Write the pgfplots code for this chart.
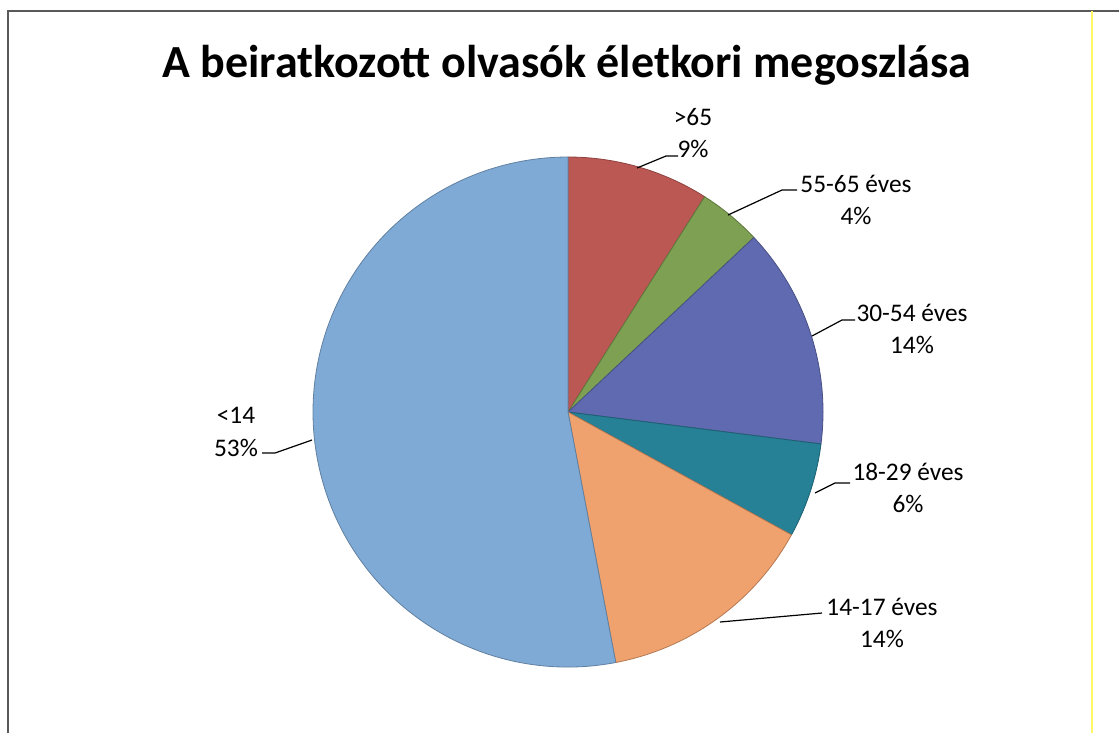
\documentclass[border=0pt]{standalone}
\usepackage{pgfplots}
\pgfplotsset{compat=1.18}
\usepackage{fontspec}
\setmainfont{Carlito}
\definecolor{cRed}{RGB}{188,88,84}
\definecolor{cGreen}{RGB}{126,160,82}
\definecolor{cBlue}{RGB}{96,106,176}
\definecolor{cTeal}{RGB}{38,128,150}
\definecolor{cOrange}{RGB}{240,162,110}
\definecolor{cLight}{RGB}{128,170,214}
% slice: start (cumulative %), share (%), colour
\newcommand\slice[3]{%
  \pgfmathsetmacro\angA{90-3.6*#1}%
  \pgfmathsetmacro\angB{90-3.6*(#1+#2)}%
  \edef\doslice{\noexpand\addplot[fill=#3, draw=#3!75!black, line width=0.6pt, data cs=polar] coordinates {(\angA,0) (\angA,1)} arc[start angle=\angA, end angle=\angB, radius=191.25pt] -- cycle;}%
  \doslice}
\begin{document}
\begin{tikzpicture}
\begin{scope}[x=0.75pt,y=-0.75pt]
\useasboundingbox (0,0) rectangle (1119,733);
\fill[white] (0,0) rectangle (1119,733);
\draw[black!65, line width=1.4pt] (8,733) -- (8,11) -- (1119,11);
\draw[yellow!60, line width=0.8pt] (1092,11) -- (1092,733);
\node[font=\fontsize{34.5}{38}\selectfont\bfseries] at (567,65) {A beiratkozott olvasók életkori megoszlása};
\end{scope}
\begin{axis}[at={(426pt,-309pt)}, anchor=center, scale only axis, width=382.5pt, height=382.5pt,
  xmin=-1, xmax=1, ymin=-1, ymax=1, hide axis, clip=false]
  \slice{0}{9}{cRed}
  \slice{9}{4}{cGreen}
  \slice{13}{14}{cBlue}
  \slice{27}{6}{cTeal}
  \slice{33}{14}{cOrange}
  \slice{47}{53}{cLight}
\end{axis}
\begin{scope}[x=0.75pt,y=-0.75pt]
\begin{scope}[every node/.style={font=\fontsize{19}{24.5}\selectfont, align=center}]
\node at (693,133) {>65\\9\%};
\node at (856,200) {55-65 éves\\4\%};
\node at (912,329) {30-54 éves\\14\%};
\node at (908,488) {18-29 éves\\6\%};
\node at (882,623) {14-17 éves\\14\%};
\node at (236,432) {<14\\53\%};
\end{scope}
\begin{scope}[black, line width=0.9pt]
\draw (637,168) -- (666,156) -- (678,156);
\draw (728,215) -- (782,190) -- (797,190);
\draw (812,336) -- (842,320) -- (855,320);
\draw (815,493) -- (835,483) -- (850,483);
\draw (720,622) -- (822,613);
\draw (312,440) -- (275,453) -- (262,453);
\end{scope}
\end{scope}
\end{tikzpicture}
\end{document}
